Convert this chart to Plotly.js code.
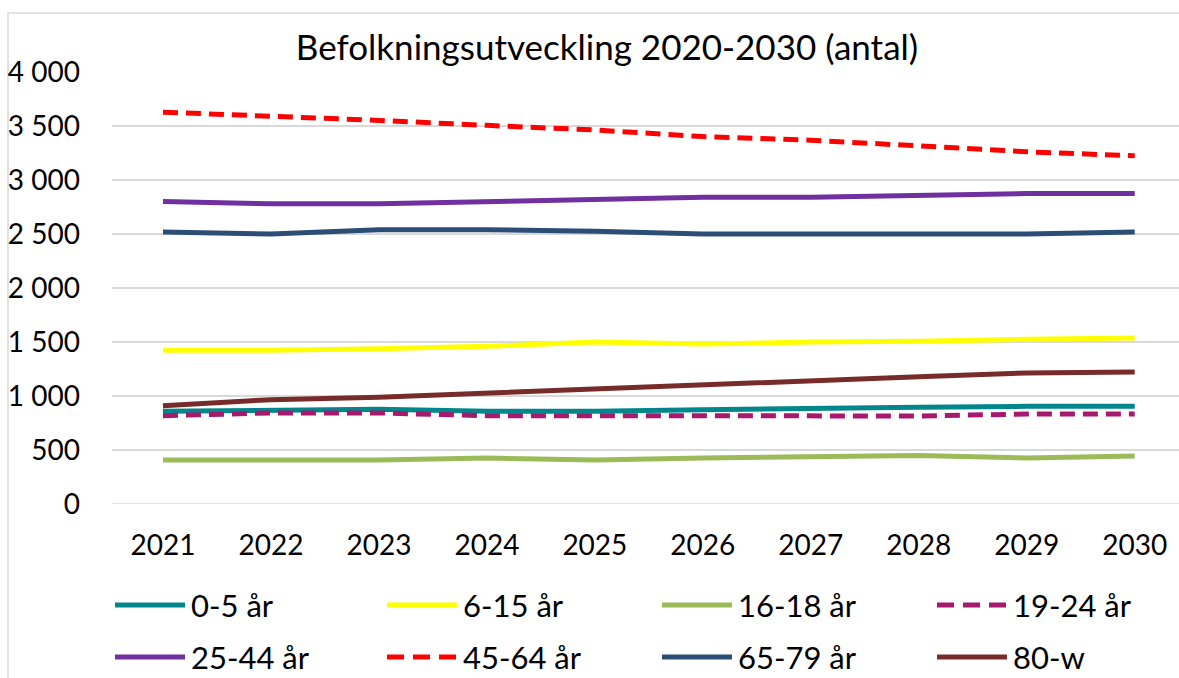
<!DOCTYPE html>
<html>
<head>
<meta charset="utf-8">
<script src="https://cdn.plot.ly/plotly-3.0.1.min.js"></script>
<style>html,body{margin:0;padding:0;background:#fff;}#chart{width:1179px;height:678px;}</style>
</head>
<body>
<div id="chart"></div>
<script>
const years = ["2021","2022","2023","2024","2025","2026","2027","2028","2029","2030"];
const seriesNames = ["0-5 år","6-15 år","16-18 år","19-24 år","25-44 år","45-64 år","65-79 år","80-w"];
const age0_5   = [858, 864, 877, 858, 858, 873, 889, 895, 904, 904];
const age6_15  = [1423, 1423, 1438, 1460, 1500, 1481, 1500, 1506, 1525, 1537];
const age16_18 = [407, 407, 407, 426, 407, 426, 432, 448, 426, 444];
const age19_24 = [818, 843, 843, 818, 818, 815, 815, 815, 833, 833];
const age25_44 = [2800, 2779, 2779, 2800, 2822, 2840, 2840, 2859, 2874, 2874];
const age45_64 = [3628, 3595, 3552, 3506, 3463, 3402, 3368, 3316, 3261, 3224];
const age65_79 = [2518, 2500, 2540, 2540, 2525, 2500, 2500, 2500, 2500, 2518];
const age80w   = [910, 966, 988, 1028, 1065, 1105, 1142, 1179, 1213, 1222];
const yTicks = [0, 500, 1000, 1500, 2000, 2500, 3000, 3500, 4000];
const yTickLabels = ["0","500","1 000","1 500","2 000","2 500","3 000","3 500","4 000"];

const FONT = "Lato, 'Open Sans', sans-serif";
const values = [age0_5, age6_15, age16_18, age19_24, age25_44, age45_64, age65_79, age80w];
const colors = ["#00868B","#FFFF00","#9BBB59","#A6196E","#7030A0","#FF0000","#2C4E76","#772C2A"];
const dashes = ["solid","solid","solid","15px,8px","solid","15px,8px","solid","solid"];

// layout geometry (pixels)
const W = 1179, H = 678, L = 112, R = 0, T = 72, B = 174;
const PW = W - L - R, PH = H - T - B;
const px = x => (x - L) / PW;
const py = y => (H - B - y) / PH;

const traces = values.map((v, i) => ({
  type: "scatter", mode: "lines", x: years, y: v, name: seriesNames[i],
  line: {color: colors[i], width: 5, dash: dashes[i]}, showlegend: false
}));

// manual legend (4 columns x 2 rows)
const colX = [115, 387, 662, 937];
const rowY = [605, 657];
const shapes = [
  {type: "line", xref: "paper", yref: "y", x0: 0, x1: 1, y0: 0, y1: 0, line: {color: "#d9d9d9", width: 1.5}, layer: "below"},
  {type: "rect", xref: "paper", yref: "paper", x0: px(8), x1: px(1190), y0: py(700), y1: py(13),
   line: {color: "#d9d9d9", width: 1.5}, fillcolor: "rgba(0,0,0,0)", layer: "below"}
];
const annotations = [];
seriesNames.forEach((n, i) => {
  const cx = colX[i % 4], cy = rowY[Math.floor(i / 4)];
  shapes.push({type: "line", xref: "paper", yref: "paper", x0: px(cx), x1: px(cx + 70), y0: py(cy), y1: py(cy),
    line: {color: colors[i], width: 5, dash: dashes[i] === "solid" ? "solid" : "17px,9px"}});
  annotations.push({xref: "paper", yref: "paper", x: px(cx + 74), y: py(cy), xanchor: "left", yanchor: "middle",
    text: n, showarrow: false, font: {family: FONT, size: 31, color: "#000"}});
});

const layout = {
  width: W, height: H,
  margin: {l: L, r: R, t: T, b: B},
  paper_bgcolor: "#fff", plot_bgcolor: "#fff",
  font: {family: FONT, size: 28, color: "#000"},
  title: {text: "Befolkningsutveckling 2020-2030 (antal)", font: {family: FONT, size: 35, color: "#000"},
          x: 607/W, xref: "container", xanchor: "center", y: 1 - 48/H, yref: "container", yanchor: "middle"},
  showlegend: false,
  xaxis: {type: "category", range: [-0.472, 9.41], showgrid: false, zeroline: false, showline: false,
          ticks: "", tickfont: {family: FONT, size: 28, color: "#000"}, ticklabelstandoff: 22, fixedrange: true},
  yaxis: {range: [0, 4000], tickvals: yTicks, ticktext: yTickLabels, showgrid: true, gridcolor: "#d9d9d9", gridwidth: 1.5,
          zeroline: false, showline: false, ticks: "", ticklabelstandoff: 31,
          tickfont: {family: FONT, size: 28, color: "#000"}, fixedrange: true},
  shapes: shapes,
  annotations: annotations
};

Plotly.newPlot("chart", traces, layout, {displayModeBar: false, staticPlot: true});
</script>
</body>
</html>
